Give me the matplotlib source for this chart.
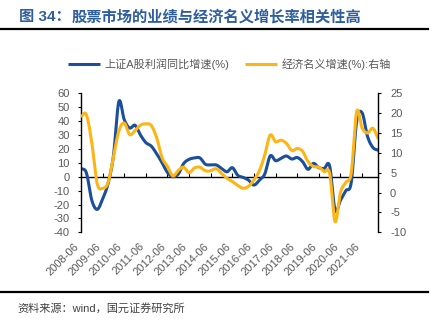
import numpy as np
import matplotlib
matplotlib.use("Agg")
import matplotlib.pyplot as plt
from matplotlib.lines import Line2D

plt.rcParams['font.family'] = ['Liberation Sans', 'Noto Sans CJK SC']
plt.rcParams['axes.unicode_minus'] = False

# quarterly data, 2008-06 .. 2022-03
tick_labels = ['2008-06', '2009-06', '2010-06', '2011-06', '2012-06', '2013-06', '2014-06',
               '2015-06', '2016-06', '2017-06', '2018-06', '2019-06', '2020-06', '2021-06']

# 上证A股利润同比增速(%) - left axis
profit_growth = [6, 2.7, -17, -23.5, -16, -5, 15, 54, 41, 35, 37, 30, 24.5, 22, 16.5, 10,
                 3, 0, 2, 9.5, 12.5, 13.5, 13.5, 9, 8.5, 8.5, 6, 3.5, 6.5, 1, -0.5, -2.5,
                 -6, -2.5, 2, 15, 11.5, 13.2, 14.9, 12.7, 13.8, 10.8, 5.3, 9.6, 6.5, 6,
                 7.7, -24, -17, -10, -4, 40, 46, 29, 21, 19]

# 经济名义增速(%) - right axis
nominal_gdp = [19.1, 19.6, 12.5, 2.2, 1.1, 2.5, 9, 15.5, 17.5, 14.6, 15.6, 17, 17.3, 16.9,
               13.8, 8.8, 6.6, 4.2, 5.6, 6.4, 5, 6.2, 6.4, 5.5, 5.5, 6, 4.8, 3.6, 2.8, 1.8,
               1.1, 1.6, 3.2, 5.5, 9.5, 14.5, 12.8, 13.2, 12.4, 10.6, 11.1, 10.4, 7.8, 6.6,
               6.4, 5.3, 4.8, -7.3, 0, 2.6, 5, 20.4, 16.3, 15, 16.2, 13.5]

BLUE = '#1B4F9C'
ORANGE = '#FDB515'
GREY = '#595959'


def smooth(x, y, n=12):
    # catmull-rom curve through the points (like excel's smoothed line)
    x = np.asarray(x, float)
    y = np.asarray(y, float)
    px = np.concatenate([[2 * x[0] - x[1]], x, [2 * x[-1] - x[-2]]])
    py = np.concatenate([[2 * y[0] - y[1]], y, [2 * y[-1] - y[-2]]])
    t = np.linspace(0, 1, n, endpoint=False)
    xs, ys = [], []
    for i in range(len(x) - 1):
        for p, out in ((px, xs), (py, ys)):
            p0, p1, p2, p3 = p[i:i + 4]
            out.append(0.5 * (2 * p1 + (-p0 + p2) * t
                              + (2 * p0 - 5 * p1 + 4 * p2 - p3) * t ** 2
                              + (-p0 + 3 * p1 - 3 * p2 + p3) * t ** 3))
    xs.append([x[-1]])
    ys.append([y[-1]])
    return np.concatenate(xs), np.concatenate(ys)


x = np.arange(len(profit_growth))
tick_pos = np.arange(0, len(x), 4)

fig = plt.figure(figsize=(4.32, 3.25), dpi=100)
ax = fig.add_axes([0.1875, 0.2852, 0.6882, 0.4277])
ax2 = ax.twinx()

bx, by = smooth(x, profit_growth)
ox, oy = smooth(x, nominal_gdp)
l1, = ax.plot(bx, by, color=BLUE, lw=2.2, solid_capstyle='butt')
l2, = ax2.plot(ox, oy, color=ORANGE, lw=2.2, solid_capstyle='butt')

ax.set_xlim(0, len(x) - 1)
ax.set_ylim(-40, 60)
ax.set_yticks(np.arange(-40, 61, 10))
ax2.set_ylim(-10, 25)
ax2.set_yticks(np.arange(-10, 26, 5))

ax.set_xticks(tick_pos)
ax.set_xticklabels(tick_labels, rotation=45, ha='right')
ax.tick_params(axis='x', length=0, pad=6.5, labelsize=8, labelcolor=GREY)
ax.tick_params(axis='y', direction='out', length=2.5, width=0.8, pad=5.5,
               labelsize=8, labelcolor=GREY)
ax2.tick_params(axis='y', direction='out', length=2.5, width=0.8, pad=6,
                labelsize=8, labelcolor=GREY)

for s in ('top', 'bottom', 'right'):
    ax.spines[s].set_visible(False)
for s in ('top', 'bottom', 'left'):
    ax2.spines[s].set_visible(False)
ax.spines['left'].set_linewidth(1.0)
ax2.spines['right'].set_linewidth(1.0)

# zero line with the year ticks
zero = ax.secondary_xaxis(0.4)
zero.set_xticks(tick_pos)
zero.tick_params(direction='in', length=3, width=0.8, labelbottom=False)
zero.spines['bottom'].set_linewidth(1.0)

fig.legend([l1, l2], ['上证A股利润同比增速(%)', '经济名义增速(%):右轴'],
           loc='center left', bbox_to_anchor=(68 / 432, 0.8015), ncol=2,
           frameon=False, fontsize=8, labelcolor=GREY, borderpad=0,
           borderaxespad=0, handlelength=2.9, handletextpad=0.4,
           columnspacing=1.4)

# title, prefix drawn separately to get the wider spacing of the original
fig.text(19 / 432, 0.9486, '图 34：', fontsize=11, fontweight='bold',
         color='#2E5E9F', va='center', ha='left')
fig.text(72 / 432, 0.9486, '股票市场的业绩与经济名义增长率相关性高',
         fontsize=11, fontweight='bold', color='#2E5E9F', va='center', ha='left')
fig.add_artist(Line2D([0, 428 / 432], [1 - 29 / 325] * 2, color='black', lw=1.6))
fig.add_artist(Line2D([0, 428 / 432], [1 - 291.7 / 325] * 2, color='black', lw=1.6))
fig.text(17 / 432, 1 - 308 / 325, '资料来源：wind，国元证券研究所',
         fontsize=8, color='#404040', va='center', ha='left')

fig.savefig('out.png', dpi=100)
